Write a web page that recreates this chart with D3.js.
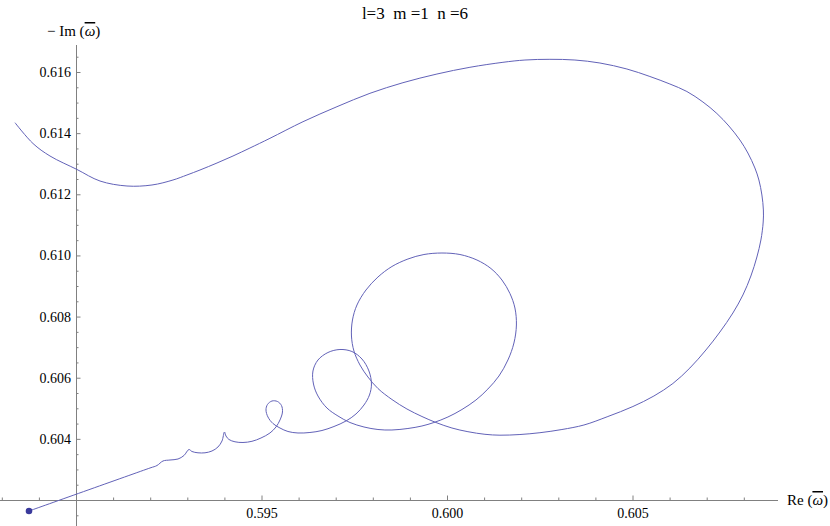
<!DOCTYPE html>
<html><head><meta charset="utf-8">
<script src="https://cdn.jsdelivr.net/npm/d3@7"></script>
<style>
html,body{margin:0;padding:0;background:#fff;}
svg{display:block;}
.tick text{font-family:"Liberation Serif","Times New Roman",serif;font-size:14px;fill:#000;}
</style></head>
<body>
<svg id="chart" width="830" height="526"></svg>
<script>
// Curve: Re(omega) and -Im(omega), in order along the trajectory
const reOmega = [0.588733,0.591994,0.592183,0.592345,0.592533,0.592749,0.592911,0.593045,0.593126,0.593288,0.593477,0.593665,0.593827,0.593935,0.594002,0.594043,0.594123,0.594285,0.594501,0.594743,0.594986,0.595228,0.595390,0.595498,0.595565,0.595538,0.595430,0.595282,0.595161,0.595121,0.595174,0.595309,0.595498,0.595713,0.595983,0.596306,0.596630,0.596953,0.597277,0.597546,0.597762,0.597910,0.597964,0.597896,0.597708,0.597438,0.597115,0.596791,0.596522,0.596387,0.596401,0.596522,0.596764,0.597061,0.597384,0.597762,0.598139,0.598516,0.598947,0.599325,0.599648,0.600025,0.600403,0.600780,0.601103,0.601400,0.601642,0.601804,0.601871,0.601831,0.601696,0.601481,0.601184,0.600807,0.600349,0.599864,0.599379,0.598947,0.598516,0.598139,0.597816,0.597573,0.597452,0.597425,0.597492,0.597654,0.597869,0.598139,0.598516,0.598920,0.599325,0.599702,0.600133,0.600564,0.601023,0.601427,0.601966,0.602505,0.603098,0.603691,0.604337,0.605011,0.605577,0.606089,0.606547,0.606979,0.607356,0.607706,0.607976,0.608191,0.608353,0.608461,0.608523,0.608528,0.608488,0.608407,0.608299,0.608110,0.607895,0.607598,0.607275,0.606898,0.606466,0.606008,0.605469,0.604849,0.604122,0.603448,0.602774,0.602101,0.601508,0.600618,0.599729,0.598813,0.597923,0.597034,0.596118,0.595228,0.594689,0.594231,0.593800,0.593342,0.592991,0.592614,0.592048,0.591374,0.590647,0.590027,0.589299,0.588841,0.588356];
const negImOmega = [0.601640,0.603047,0.603128,0.603276,0.603308,0.603341,0.603456,0.603652,0.603586,0.603544,0.603544,0.603603,0.603734,0.603930,0.604224,0.604093,0.603979,0.603904,0.603881,0.603920,0.604028,0.604192,0.604388,0.604617,0.604878,0.605091,0.605222,0.605238,0.605124,0.604944,0.604715,0.604502,0.604355,0.604241,0.604192,0.604208,0.604273,0.604404,0.604584,0.604813,0.605107,0.605435,0.605794,0.606220,0.606612,0.606857,0.606923,0.606825,0.606579,0.606220,0.605794,0.605402,0.605009,0.604748,0.604535,0.604388,0.604306,0.604290,0.604339,0.604421,0.604535,0.604715,0.604960,0.605271,0.605631,0.606056,0.606579,0.607135,0.607724,0.608280,0.608755,0.609196,0.609572,0.609850,0.610030,0.610079,0.610030,0.609883,0.609638,0.609294,0.608869,0.608378,0.607888,0.607364,0.606874,0.606416,0.606023,0.605647,0.605287,0.604977,0.604731,0.604535,0.604355,0.604234,0.604149,0.604120,0.604142,0.604201,0.604306,0.604453,0.604731,0.605058,0.605402,0.605811,0.606318,0.606907,0.607495,0.608117,0.608706,0.609327,0.609949,0.610505,0.611093,0.611486,0.611977,0.612467,0.612860,0.613350,0.613776,0.614234,0.614642,0.615019,0.615362,0.615607,0.615853,0.616098,0.616294,0.616392,0.616415,0.616392,0.616317,0.616154,0.615934,0.615650,0.615303,0.614865,0.614374,0.613831,0.613514,0.613252,0.613023,0.612794,0.612631,0.612467,0.612304,0.612271,0.612434,0.612811,0.613252,0.613661,0.614341];
const startPoint = [0.588733, 0.601640];

const xMajorTicks = [0.595, 0.600, 0.605];
const xMinorTicks = [0.588,0.589,0.591,0.592,0.593,0.594,0.596,0.597,0.598,0.599,0.601,0.602,0.603,0.604,0.606,0.607,0.608];
const yMajorTicks = [0.604, 0.606, 0.608, 0.610, 0.612, 0.614, 0.616];
const yMinorTicks = [0.6015,0.6025,0.603,0.6035,0.6045,0.605,0.6055,0.6065,0.607,0.6075,0.6085,0.609,0.6095,0.6105,0.611,0.6115,0.6125,0.613,0.6135,0.6145,0.615,0.6155,0.6165];
const titleText = "l=3  m =1  n =6";

const svg = d3.select("#chart");
const x = d3.scaleLinear().domain([0.590, 0.605]).range([76, 632.5]);
const y = d3.scaleLinear().domain([0.602, 0.616]).range([500, 72]);
const axisColor = "#808080";
const serif = '"Liberation Serif","Times New Roman",serif';

const xAxisY = y(0.602), yAxisX = x(0.590);
// x axis
const gx = svg.append("g").attr("transform", `translate(0,${xAxisY})`);
gx.call(d3.axisBottom(x).tickValues(xMajorTicks).tickFormat(d3.format(".3f")).tickSize(-4.5).tickSizeOuter(0).tickPadding(8));
gx.select(".domain").remove();
const gxm = svg.append("g").attr("transform", `translate(0,${xAxisY})`);
gxm.call(d3.axisBottom(x).tickValues(xMinorTicks).tickFormat("").tickSize(-2.5).tickSizeOuter(0));
gxm.select(".domain").remove();
svg.append("line").attr("x1", 0).attr("x2", 778).attr("y1", xAxisY).attr("y2", xAxisY)
  .attr("stroke", axisColor).attr("stroke-width", 1).attr("shape-rendering","crispEdges");

// y axis
const gy = svg.append("g").attr("transform", `translate(${yAxisX},0)`);
gy.call(d3.axisLeft(y).tickValues(yMajorTicks).tickFormat(d3.format(".3f")).tickSize(-4.5).tickSizeOuter(0).tickPadding(5));
gy.select(".domain").remove();
const gym = svg.append("g").attr("transform", `translate(${yAxisX},0)`);
gym.call(d3.axisLeft(y).tickValues(yMinorTicks).tickFormat("").tickSize(-2.5).tickSizeOuter(0));
gym.select(".domain").remove();
svg.append("line").attr("x1", yAxisX).attr("x2", yAxisX).attr("y1", 45).attr("y2", 526)
  .attr("stroke", axisColor).attr("stroke-width", 1).attr("shape-rendering","crispEdges");

svg.selectAll(".tick line").attr("stroke", axisColor);
svg.selectAll(".tick text").attr("font-family", null).attr("font-size", null);
svg.selectAll("g").attr("font-family", null).attr("font-size", null);

// curve
const pts = reOmega.map((d, i) => [d, negImOmega[i]]);
const line = d3.line().x(d => x(d[0])).y(d => y(d[1])).curve(d3.curveCatmullRom.alpha(0.5));
svg.append("path").datum(pts).attr("d", line)
  .attr("fill", "none").attr("stroke", "#6262b8").attr("stroke-width", 1);

// start point
svg.append("circle").attr("cx", x(startPoint[0])).attr("cy", y(startPoint[1])).attr("r", 3.3)
  .attr("fill", "#3a3a9c");

// title
svg.append("text").attr("x", 415).attr("y", 19).attr("text-anchor", "middle")
  .style("font-family", serif).style("font-size", "17px")
  .style("white-space","pre").text(titleText);

// axis labels
function omegaLabel(sel, prefix) {
  sel.style("font-family", serif).style("font-size", "15px").style("white-space","pre");
  sel.append("tspan").text(prefix + "(");
  sel.append("tspan").style("font-style", "italic").style("text-decoration", "overline").text("ω");
  sel.append("tspan").text(")");
}
svg.append("text").attr("x", 47).attr("y", 36).call(omegaLabel, "− Im ");
svg.append("text").attr("x", 787).attr("y", 505).call(omegaLabel, "Re ");
</script>
</body></html>
